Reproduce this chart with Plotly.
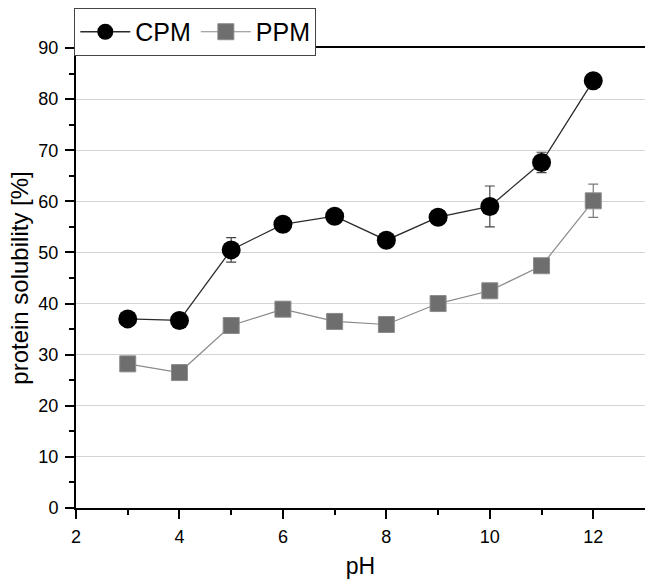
import plotly.graph_objects as go

# pH values at which solubility was measured
ph = [3, 4, 5, 6, 7, 8, 9, 10, 11, 12]

# protein solubility [%] with standard deviations
cpm = [37.0, 36.7, 50.5, 55.5, 57.1, 52.4, 56.9, 59.0, 67.6, 83.6]
cpm_sd = [0.8, 0.7, 2.4, 1.0, 1.0, 0.9, 1.0, 4.0, 2.0, 1.0]
ppm = [28.2, 26.5, 35.7, 38.9, 36.5, 35.9, 40.0, 42.5, 47.4, 60.1]
ppm_sd = [0.8, 0.7, 1.0, 1.0, 0.8, 0.8, 1.0, 1.0, 1.0, 3.25]

FONT = "Liberation Sans, Arial, sans-serif"

fig = go.Figure()
fig.add_trace(go.Scatter(
    x=ph, y=cpm, name="CPM", mode="lines+markers",
    line=dict(color="#2a2a2a", width=1.3),
    marker=dict(symbol="circle", size=19, color="black",
                line=dict(color="black", width=0)),
    error_y=dict(type="data", array=cpm_sd, visible=True,
                 color="#444444", thickness=1.2, width=5),
))
fig.add_trace(go.Scatter(
    x=ph, y=ppm, name="PPM", mode="lines+markers",
    line=dict(color="#8a8a8a", width=1.2),
    marker=dict(symbol="square", size=16, color="#6e6e6e",
                line=dict(color="#8c8c8c", width=1)),
    error_y=dict(type="data", array=ppm_sd, visible=True,
                 color="#7a7a7a", thickness=1.2, width=5),
))

fig.update_layout(
    width=645, height=579,
    margin=dict(l=76, r=0, t=48, b=71),
    paper_bgcolor="white", plot_bgcolor="white",
    font=dict(family=FONT, color="black", size=18),
    showlegend=True,
    legend=dict(
        orientation="h", x=-0.003, xanchor="left", y=1.087, yanchor="top",
        bgcolor="white", bordercolor="#444444", borderwidth=1,
        font=dict(size=25, family=FONT, color="black"),
        itemwidth=50, tracegroupgap=0,
    ),
    xaxis=dict(
        range=[2, 13], tickmode="array", tickvals=[2, 4, 6, 8, 10, 12],
        ticks="outside", ticklen=9, tickwidth=2, tickcolor="black",
        ticklabelstandoff=2,
        minor=dict(tickvals=[3, 5, 7, 9, 11], ticks="outside", ticklen=5,
                   tickwidth=2, tickcolor="black", showgrid=False),
        showline=True, linecolor="black", linewidth=2, mirror=True,
        showgrid=False, zeroline=False,
        title=dict(text="pH", font=dict(size=23), standoff=12),
        tickfont=dict(size=18),
    ),
    yaxis=dict(
        range=[0, 90], tickmode="array", tickvals=list(range(0, 100, 10)),
        ticks="outside", ticklen=9, tickwidth=2, tickcolor="black",
        ticklabelstandoff=3,
        minor=dict(tickvals=list(range(5, 90, 10)), ticks="outside",
                   ticklen=5, tickwidth=2, tickcolor="black", showgrid=False),
        showline=True, linecolor="black", linewidth=2, mirror=False,
        showgrid=True, gridcolor="#d4d4d4", gridwidth=1, zeroline=False,
        title=dict(text="protein solubility [%]", font=dict(size=24),
                   standoff=3),
        tickfont=dict(size=18),
    ),
)

fig.write_html("out.html")
